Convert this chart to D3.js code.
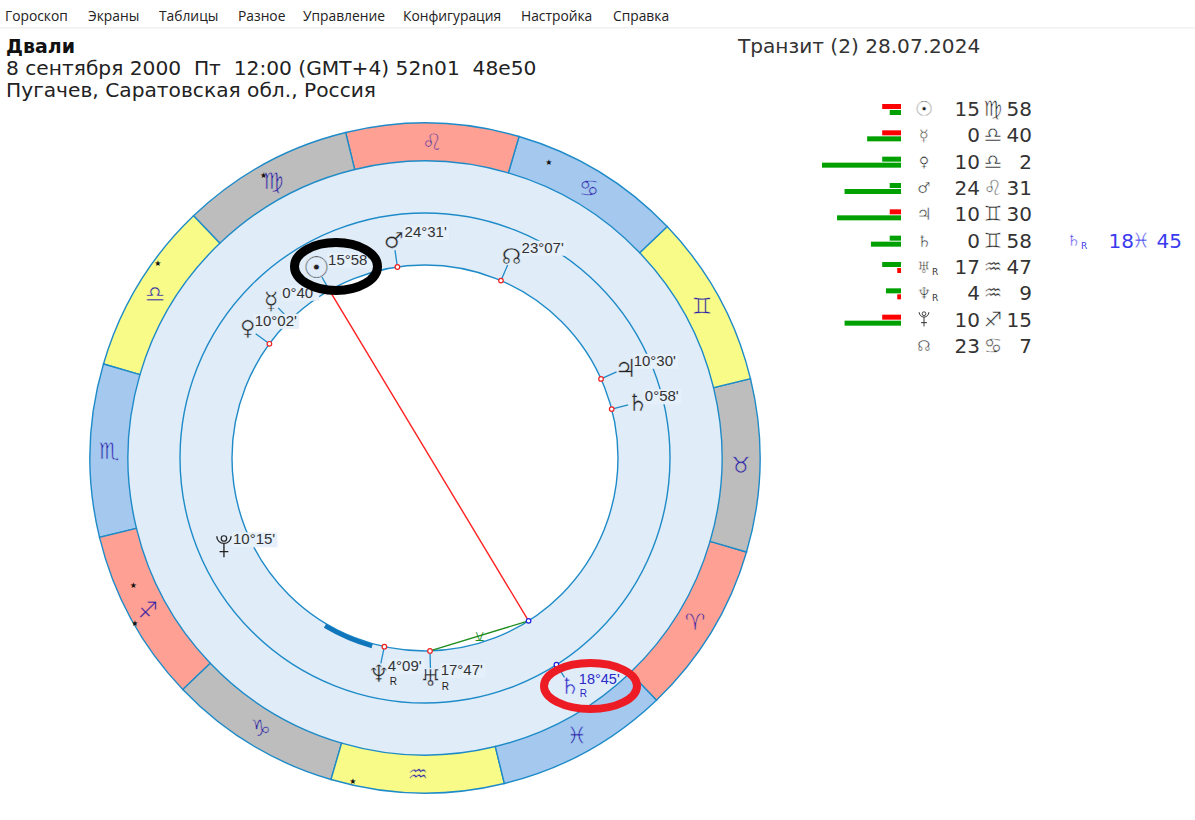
<!DOCTYPE html>
<html><head><meta charset="utf-8">
<script src="https://cdn.jsdelivr.net/npm/d3@7"></script>
<style>
html,body{margin:0;padding:0;background:#fff;overflow:hidden}
svg{display:block}
text{font-family:"DejaVu Sans",sans-serif}
</style></head><body>
<svg id="c" width="1195" height="820"></svg>
<script>
const menuItems=["Гороскоп","Экраны","Таблицы","Разное","Управление","Конфигурация","Настройка","Справка"];
const headerLines=["8 сентября 2000  Пт  12:00 (GMT+4) 52n01  48e50","Пугачев, Саратовская обл., Россия"];
const personName="Двали";
const transitTitle="Транзит (2) 28.07.2024";

const signGlyphs=["♈","♉","♊","♋","♌","♍","♎","♏","♐","♑","♒","♓"];
const signColors=["#FFA094","#BDBDBD","#F8FB88","#A5C8EF","#FFA094","#BDBDBD","#F8FB88","#A5C8EF","#FFA094","#BDBDBD","#F8FB88","#A5C8EF"];

const planetGlyphs=["☉","☿","♀","♂","♃","♄","♅","♆","♇","☊"];
const planetLons=[165.97,180.67,190.03,144.52,70.5,60.97,317.78,304.15,250.25,113.12];
const planetLabels=["15°58'","0°40'","10°02'","24°31'","10°30'","0°58'","17°47'","4°09'","10°15'","23°07'"];
const planetRetro=[0,0,0,0,0,0,1,1,0,0];
const tableDeg=["15","0","10","24","10","0","17","4","10","23"];
const tableSign=["♍","♎","♎","♌","♊","♊","♒","♒","♐","♋"];
const tableMin=["58","40","2","31","30","58","47","9","15","7"];
const barTop=[5,5,5,3,3,3,5,4,5,0];
const barTopKind=["r","r","g","g","r","g","g","g","r","g"];
const barBottom=[3,9,21,15,17,8,1,1,15,0];
const barBottomKind=["g","g","g","g","g","g","r","r","g","g"];

const transitGlyph="♄";
const transitLon=348.75;
const transitLabel="18°45'";
const transitDeg="18", transitSign="♓", transitMin="45";

const aspectLons=[[165.97,348.75],[317.78,348.75]];
const arcSpan=[285.5,300.6];
const starLons=[113.6,166,190.2,249.8,255.9,303.7];
const starRad=[321,326,330.6,318,333.6,331];

// ---- layout and style ----
const aspectColors=["#FF2020","#1E8C1E"];
const glyphSizes=[30,24,21,22,25,24,23,24,22,22];
const labelDx=[12,11,7,11,8,7,10,9,9,10];
const labelDy=[-2,-3,-2,-3,-2,-1,-3,-2,-3,-3];
const cx=425,cy=458,R0=335,R1=297,R2=245,R3=193,Rg=220,Rt=270;
const glyphFont='"DejaVu Sans"';
const svg=d3.select("#c");

const ang=d3.scaleLinear().domain([0,360]).range([-46.3,313.7].map(d=>d*Math.PI/180));
const pt=(lon,r)=>{const a=ang(lon);return [cx+r*Math.cos(a),cy-r*Math.sin(a)];};
const d3a=lon=>Math.PI/2-ang(lon);
const lineCol="#1E8BC8", ringFill="#E0ECF8", signInk="#2A1FA5";
const plutoD="M-6.5,-10A6.5,6.5 0 0 0 6.5,-10M0,-3.5V9M-4,4H4";

function planetSymbol(sel,glyph,size,fill,bg){
  if(glyph==="♇"){
    const k=size/20;
    const p=sel.append("g").attr("transform",`scale(${k})`);
    p.append("path").attr("d",plutoD).attr("fill","none").attr("stroke",fill).attr("stroke-width",1.2);
    p.append("circle").attr("cy",-8).attr("r",2.5).attr("fill","none").attr("stroke",fill).attr("stroke-width",1.1);
  } else {
    sel.append("text").attr("y",size*0.36).attr("text-anchor","middle").style("font-family",glyphFont)
      .style("font-size",size+"px").attr("fill",fill).attr("stroke",bg).attr("stroke-width",0.45).text(glyph+"\uFE0E");
  }
}

// menu
svg.append("rect").attr("x",0).attr("y",27).attr("width",1195).attr("height",1.5).attr("fill","#F0F0F0");
const menuX=d3.scaleOrdinal().domain(menuItems).range([5,88,159,238,303,403,521,613]);
svg.selectAll(".menu").data(menuItems).join("text").attr("x",d=>menuX(d)).attr("y",21)
  .style("font-family",'"Open Sans"').style("font-size","13.8px").attr("fill","#222").text(d=>d);

// header
svg.append("text").attr("x",6).attr("y",53).style("font-size","19px").style("font-weight","bold").attr("fill","#111").text(personName);
svg.selectAll(".hdr").data(headerLines).join("text").attr("x",6).attr("y",(d,i)=>75+22*i)
  .style("font-size","20.2px").attr("fill","#222").style("white-space","pre").attr("xml:space","preserve").text(d=>d);
svg.append("text").attr("x",738).attr("y",53).style("font-size","20.1px").attr("fill","#333").text(transitTitle);

// wheel
const g=svg.append("g").attr("transform",`translate(${cx},${cy})`);
const arc=d3.arc();
g.append("circle").attr("r",R1).attr("fill",ringFill);
g.append("circle").attr("r",R3).attr("fill","#fff");
g.selectAll(".sign").data(signGlyphs).join("path")
  .attr("d",(d,i)=>arc({innerRadius:R1,outerRadius:R0,startAngle:d3a((i+1)*30),endAngle:d3a(i*30)}))
  .attr("fill",(d,i)=>signColors[i]).attr("stroke",lineCol).attr("stroke-width",1.4);
[R2,R3].forEach(r=>g.append("circle").attr("r",r).attr("fill","none").attr("stroke",lineCol).attr("stroke-width",1.4));

svg.selectAll(".signg").data(signGlyphs).join("text")
  .attr("x",(d,i)=>pt(i*30+15,316)[0]).attr("y",(d,i)=>pt(i*30+15,316)[1]+8)
  .attr("text-anchor","middle").style("font-family",glyphFont).style("font-size","23px")
  .attr("fill",signInk).attr("stroke",(d,i)=>signColors[i]).attr("stroke-width",0.55).text(d=>d+"\uFE0E");
svg.selectAll(".star").data(starLons).join("text")
  .attr("x",d=>pt(d,starRad[starLons.indexOf(d)])[0]).attr("y",d=>pt(d,starRad[starLons.indexOf(d)])[1]+3)
  .attr("text-anchor","middle").style("font-size","8px").attr("fill","#111").text("★");

// thick arc
g.append("path").attr("d",arc({innerRadius:R3,outerRadius:R3+4.5,startAngle:d3a(arcSpan[0]),endAngle:d3a(arcSpan[1])})).attr("fill","#0F76BC");

// aspect lines
svg.selectAll(".asp").data(aspectLons).join("line")
  .attr("x1",d=>pt(d[0],R3)[0]).attr("y1",d=>pt(d[0],R3)[1]).attr("x2",d=>pt(d[1],R3)[0]).attr("y2",d=>pt(d[1],R3)[1])
  .attr("stroke",(d,i)=>aspectColors[i]).attr("stroke-width",1.4);
const [u,s]=[pt(aspectLons[1][0],R3),pt(aspectLons[1][1],R3)];
svg.append("text").attr("x",(u[0]+s[0])/2).attr("y",(u[1]+s[1])/2+5).attr("text-anchor","middle")
  .style("font-size","14px").attr("fill","#1E8C1E").text("⚺");

// ticks
svg.selectAll(".tick").data(planetLons).join("line")
  .attr("x1",d=>pt(d,R3)[0]).attr("y1",d=>pt(d,R3)[1]).attr("x2",d=>pt(d,Rg-10)[0]).attr("y2",d=>pt(d,Rg-10)[1])
  .attr("stroke",lineCol).attr("stroke-width",1.3);
svg.append("line").attr("x1",pt(transitLon,R2)[0]).attr("y1",pt(transitLon,R2)[1]).attr("x2",pt(transitLon,Rt-10)[0]).attr("y2",pt(transitLon,Rt-10)[1])
  .attr("stroke",lineCol).attr("stroke-width",1.3);

// dots
svg.selectAll(".dot").data(planetLons).join("circle")
  .attr("cx",d=>pt(d,R3)[0]).attr("cy",d=>pt(d,R3)[1]).attr("r",2.3).attr("fill","#fff").attr("stroke","#F02020").attr("stroke-width",1.2);
[R3,R2].forEach(r=>svg.append("circle").attr("cx",pt(transitLon,r)[0]).attr("cy",pt(transitLon,r)[1]).attr("r",2.3).attr("fill","#fff").attr("stroke","#2020E0").attr("stroke-width",1.2));

// planet labels with background patches
const lbl=svg.selectAll(".pl").data(planetLons).join("g").attr("transform",d=>{const p=pt(d,Rg);return `translate(${p[0]},${p[1]})`;});
lbl.append("rect").attr("x",(d,i)=>labelDx[i]-1).attr("y",(d,i)=>labelDy[i]-12).attr("width",(d,i)=>planetLabels[i].length*7.6).attr("height",15).attr("fill","#E6F0FA");
lbl.each(function(d,i){planetSymbol(d3.select(this),planetGlyphs[i],glyphSizes[i],"#222",ringFill);});
lbl.append("text").attr("x",(d,i)=>labelDx[i]).attr("y",(d,i)=>labelDy[i]).style("font-family",'"Liberation Sans"').style("font-size","15px").attr("fill","#333").text((d,i)=>planetLabels[i]);
lbl.filter((d,i)=>planetRetro[i]).append("text").attr("x",11).attr("y",12).style("font-family",'"Liberation Sans"').style("font-size","10px").attr("fill","#222").text("R");

// transit label
const tp=pt(transitLon,Rt);
const tg=svg.append("g").attr("transform",`translate(${tp[0]},${tp[1]})`);
planetSymbol(tg,transitGlyph,23,"#2A2AC8",ringFill);
tg.append("text").attr("x",9).attr("y",-2).style("font-family",'"Liberation Sans"').style("font-size","14.5px").attr("fill","#2A2AC8").text(transitLabel);
tg.append("text").attr("x",10).attr("y",11).style("font-family",'"Liberation Sans"').style("font-size","10px").attr("fill","#2A2AC8").text("R");

// highlight ellipses
svg.append("ellipse").attr("cx",336).attr("cy",266.5).attr("rx",41.5).attr("ry",24).attr("fill","none").attr("stroke","#000").attr("stroke-width",9);
svg.append("ellipse").attr("cx",590.5).attr("cy",686).attr("rx",46.5).attr("ry",23).attr("fill","none").attr("stroke","#ED1C24").attr("stroke-width",8);

// table
const rowY=d3.scaleLinear().domain([0,9]).range([109,346]);
const barW=d3.scaleLinear().domain([0,21]).range([0,79]);
const barCol={r:"#FF0000",g:"#00A000"};
const rows=svg.selectAll(".row").data(planetGlyphs).join("g").attr("transform",(d,i)=>`translate(0,${rowY(i)})`);
rows.append("rect").attr("x",(d,i)=>901-barW(barTop[i])).attr("y",-5).attr("width",(d,i)=>barW(barTop[i])).attr("height",5).attr("fill",(d,i)=>barCol[barTopKind[i]]);
rows.append("rect").attr("x",(d,i)=>901-barW(barBottom[i])).attr("y",1).attr("width",(d,i)=>barW(barBottom[i])).attr("height",5).attr("fill",(d,i)=>barCol[barBottomKind[i]]);
rows.append("g").attr("transform","translate(924,0)").each(function(d,i){planetSymbol(d3.select(this),d,glyphSizes[i]*0.68,"#222","#fff");});
rows.filter((d,i)=>planetRetro[i]).append("text").attr("x",932).attr("y",8).style("font-size","9px").attr("fill","#333").text("R");
rows.append("text").attr("x",980).attr("y",7).attr("text-anchor","end").style("font-size","20px").attr("fill","#333").text((d,i)=>tableDeg[i]);
rows.append("text").attr("x",993).attr("y",7).attr("text-anchor","middle").style("font-family",glyphFont).style("font-size","21px").attr("fill","#222").attr("stroke","#fff").attr("stroke-width",0.5).text((d,i)=>tableSign[i]+"\uFE0E");
rows.append("text").attr("x",1032).attr("y",7).attr("text-anchor","end").style("font-size","20px").attr("fill","#333").text((d,i)=>tableMin[i]);

const tr=svg.append("g").attr("transform",`translate(0,${rowY(5)})`).attr("fill","#3A3AF0");
tr.append("g").attr("transform","translate(1074,0)").call(planetSymbol,transitGlyph,16,"#3A3AF0","#fff");
tr.append("text").attr("x",1081).attr("y",8).style("font-size","9px").text("R");
tr.append("text").attr("x",1134).attr("y",7).attr("text-anchor","end").style("font-size","20px").text(transitDeg);
tr.append("text").attr("x",1141).attr("y",7).attr("text-anchor","middle").style("font-family",glyphFont).style("font-size","21px").attr("stroke","#fff").attr("stroke-width",0.5).text(transitSign+"\uFE0E");
tr.append("text").attr("x",1182).attr("y",7).attr("text-anchor","end").style("font-size","20px").text(transitMin);
</script>
</body></html>
